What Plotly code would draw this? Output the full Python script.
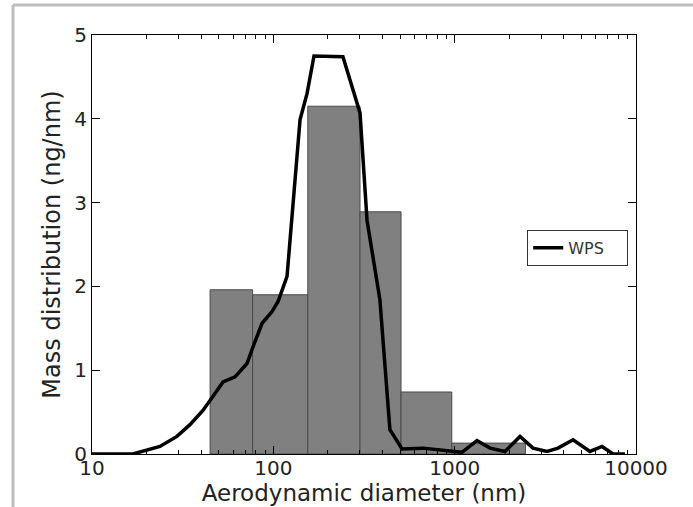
import plotly.graph_objects as go

# Histogram bins (nm) and heights (ng/nm)
bin_edges = [44.8, 76.9, 154.9, 300.6, 506, 964, 2455]
bin_values = [1.96, 1.90, 4.15, 2.89, 0.74, 0.13]

# WPS curve
wps_d = [10.0, 16.8, 23.7, 29.4, 34.7, 40.9, 46.5, 52.8, 61.5, 71.6, 77.3, 86.7,
         98.4, 106.2, 119, 140.4, 153.4, 167.6, 242, 289, 300.6, 328.6, 387,
         439.5, 512.6, 668.9, 907, 1097, 1327, 1566, 1895, 2293, 2704, 3231,
         3716, 4496, 5574, 6498, 7468, 8690]
wps_v = [0.0, 0.0, 0.09, 0.21, 0.35, 0.52, 0.69, 0.86, 0.92, 1.08, 1.28, 1.56,
         1.70, 1.82, 2.12, 3.99, 4.30, 4.75, 4.74, 4.18, 4.07, 2.79, 1.84,
         0.29, 0.06, 0.07, 0.04, 0.02, 0.16, 0.07, 0.03, 0.21, 0.07, 0.03,
         0.07, 0.17, 0.03, 0.09, 0.0, 0.0]

x_tickvals = [10, 100, 1000, 10000]
x_ticktext = ["10", "100", "1000", "10000"]
y_tickvals = [0, 1, 2, 3, 4, 5]

fig = go.Figure()

for i, h in enumerate(bin_values):
    l, r = bin_edges[i], bin_edges[i + 1]
    fig.add_trace(go.Scatter(
        x=[l, l, r, r, l], y=[0, h, h, 0, 0],
        mode="lines", fill="toself", fillcolor="#808080",
        line=dict(color="#4a4a4a", width=1),
        showlegend=False, hoverinfo="skip"))

fig.add_trace(go.Scatter(
    x=wps_d, y=wps_v, mode="lines", name="WPS",
    line=dict(color="black", width=3.5)))

minor_vals = [m * 10 ** k for k in range(1, 4) for m in range(2, 10)]

fig.update_xaxes(
    type="log", range=[1, 4], automargin=False,
    tickvals=x_tickvals, ticktext=x_ticktext,
    ticks="inside", ticklen=8, tickcolor="black", tickwidth=1,
    ticklabelstandoff=-4,
    minor=dict(tickvals=minor_vals, ticks="inside", ticklen=4,
               tickcolor="black", showgrid=False),
    showline=True, linecolor="black", linewidth=1, mirror="allticks",
    showgrid=False, zeroline=False,
    tickfont=dict(family="DejaVu Sans", size=20, color="#222"),
    title=dict(text="Aerodynamic diameter (nm)", standoff=5,
               font=dict(family="DejaVu Sans", size=23, color="#222")))

fig.update_yaxes(
    range=[0, 5], tickvals=y_tickvals, automargin=False,
    ticks="inside", ticklen=8, tickcolor="black", tickwidth=1,
    showline=True, linecolor="black", linewidth=1, mirror="allticks",
    showgrid=False, zeroline=False,
    tickfont=dict(family="DejaVu Sans", size=20, color="#222"),
    title=dict(text="Mass distribution (ng/nm)", standoff=6,
               font=dict(family="DejaVu Sans", size=24, color="#222")))

fig.update_layout(
    width=693, height=507,
    margin=dict(l=92, r=57, t=35, b=53),
    paper_bgcolor="white", plot_bgcolor="white",
    legend=dict(x=0.80, y=0.535, xanchor="left", yanchor="top",
                orientation="h", entrywidth=54, entrywidthmode="pixels",
                bordercolor="#333", borderwidth=1, bgcolor="white",
                font=dict(family="DejaVu Sans", size=16, color="#333")),
    shapes=[
        dict(type="line", xref="paper", yref="paper",
             x0=-0.1452, x1=-0.1452, y0=-0.13, y1=1.0716,
             line=dict(color="#bdbdbd", width=3)),
        dict(type="line", xref="paper", yref="paper",
             x0=-0.1452, x1=1.11, y0=1.0716, y1=1.0716,
             line=dict(color="#bdbdbd", width=3)),
    ],
)

fig.write_html("out.html", config={"displayModeBar": False},
               post_script="document.body.style.margin='0px';")
